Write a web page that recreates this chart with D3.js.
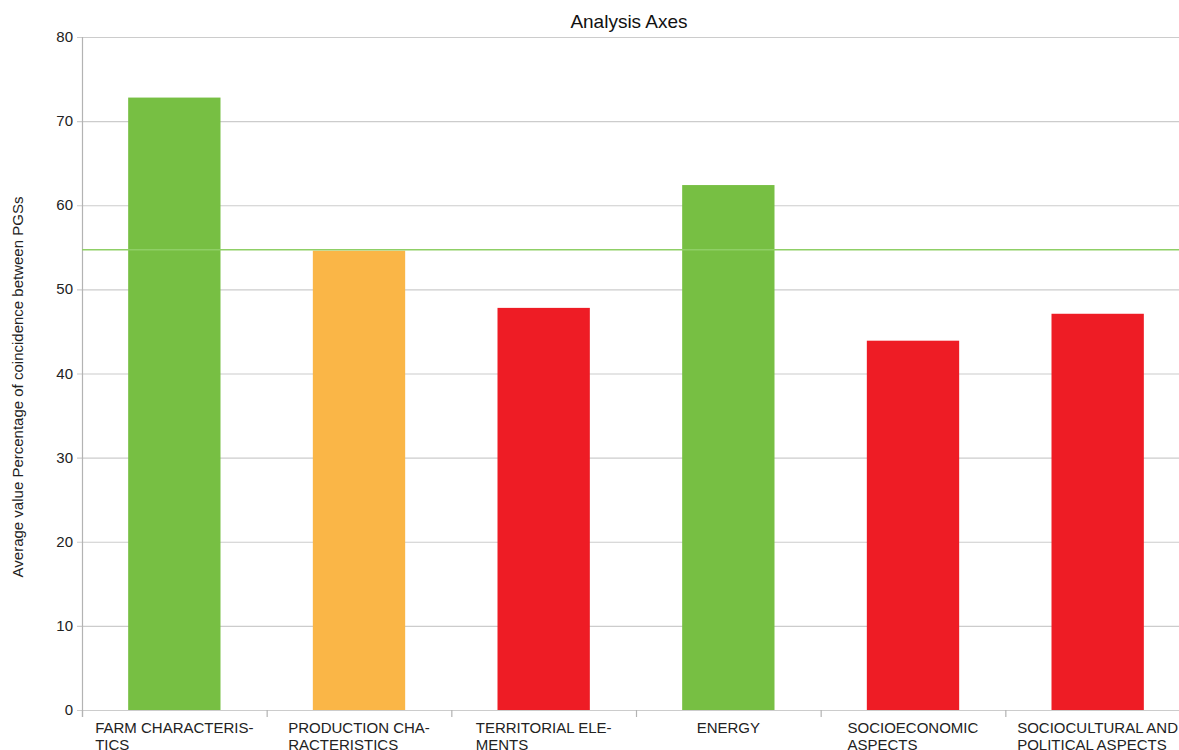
<!DOCTYPE html>
<html>
<head>
<meta charset="utf-8">
<script src="https://cdn.jsdelivr.net/npm/d3@7"></script>
<style>
  body { margin: 0; background: #fff; }
  svg { display: block; font-family: "Liberation Sans", Arial, sans-serif; }
</style>
</head>
<body>
<svg id="chart"></svg>
<script>
// chart values
const categories = [
    ["FARM CHARACTERIS-", "TICS"],
    ["PRODUCTION CHA-", "RACTERISTICS"],
    ["TERRITORIAL ELE-", "MENTS"],
    ["ENERGY"],
    ["SOCIOECONOMIC", "ASPECTS"],
    ["SOCIOCULTURAL AND", "POLITICAL ASPECTS"]
];
const values = [72.8, 54.6, 47.8, 62.4, 43.9, 47.1];
const barColors = ["#77bf43", "#fab647", "#ee1c25", "#77bf43", "#ee1c25", "#ee1c25"];
const averageValue = 54.7;
const yTicks = [0, 10, 20, 30, 40, 50, 60, 70, 80];

const width = 1179, height = 750;
const margin = { top: 37, right: -11, bottom: 40, left: 82 };

const svg = d3.select("#chart")
    .attr("width", width)
    .attr("height", height);

const x = d3.scaleBand()
    .domain(d3.range(categories.length))
    .range([margin.left, width - margin.right])
    .paddingInner(0)
    .paddingOuter(0);

const y = d3.scaleLinear()
    .domain([0, 80])
    .range([height - margin.bottom, margin.top]);

// gridlines
svg.append("g")
    .selectAll("line")
    .data(yTicks)
    .enter()
    .append("line")
    .attr("x1", margin.left - 5)
    .attr("x2", width)
    .attr("y1", d => y(d) + 0.5)
    .attr("y2", d => y(d) + 0.5)
    .attr("stroke", "#cccccc")
    .attr("stroke-width", 1.2);

// y tick labels
svg.append("g")
    .selectAll("text")
    .data(yTicks)
    .enter()
    .append("text")
    .attr("x", margin.left - 9)
    .attr("y", d => y(d) + 5)
    .attr("text-anchor", "end")
    .attr("font-size", 15)
    .attr("fill", "#222")
    .text(d => d);

// axis lines
svg.append("line")
    .attr("x1", margin.left + 0.5).attr("x2", margin.left + 0.5)
    .attr("y1", margin.top).attr("y2", y(0) + 7)
    .attr("stroke", "#b3b3b3").attr("stroke-width", 1.2);

svg.append("g")
    .selectAll("line")
    .data(d3.range(categories.length + 1))
    .enter()
    .append("line")
    .attr("x1", d => margin.left + d * x.bandwidth() + 0.5)
    .attr("x2", d => margin.left + d * x.bandwidth() + 0.5)
    .attr("y1", y(0))
    .attr("y2", y(0) + 7)
    .attr("stroke", "#b3b3b3")
    .attr("stroke-width", 1.2);

// bars
const barW = x.bandwidth() * 0.5;
svg.append("g")
    .selectAll("rect")
    .data(values)
    .enter()
    .append("rect")
    .attr("x", (d, i) => x(i) + (x.bandwidth() - barW) / 2)
    .attr("y", d => y(d))
    .attr("width", barW)
    .attr("height", d => y(0) - y(d))
    .attr("fill", (d, i) => barColors[i]);

// average line
svg.append("line")
    .attr("x1", margin.left)
    .attr("x2", width)
    .attr("y1", y(averageValue))
    .attr("y2", y(averageValue))
    .attr("stroke", "#8fcf66")
    .attr("stroke-width", 1.5);

// category labels, lines left-aligned in a centred block
const labels = svg.append("g")
    .selectAll("text")
    .data(categories)
    .enter()
    .append("text")
    .attr("font-size", 15)
    .attr("fill", "#222");

labels.each(function (lines, i) {
    const t = d3.select(this);
    lines.forEach((line, j) => {
        t.append("tspan")
            .attr("x", 0)
            .attr("y", y(0) + 23 + j * 17)
            .text(line);
    });
    const w = this.getBBox().width;
    const left = x(i) + x.bandwidth() / 2 - w / 2;
    t.selectAll("tspan").attr("x", left);
});

// title
svg.append("text")
    .attr("x", 629)
    .attr("y", 28)
    .attr("text-anchor", "middle")
    .attr("font-size", 19)
    .attr("fill", "#111")
    .text("Analysis Axes");

// y axis title
svg.append("text")
    .attr("transform", `translate(23, ${387}) rotate(-90)`)
    .attr("text-anchor", "middle")
    .attr("font-size", 15)
    .attr("fill", "#222")
    .text("Average value Percentage of coincidence between PGSs");
</script>
</body>
</html>
